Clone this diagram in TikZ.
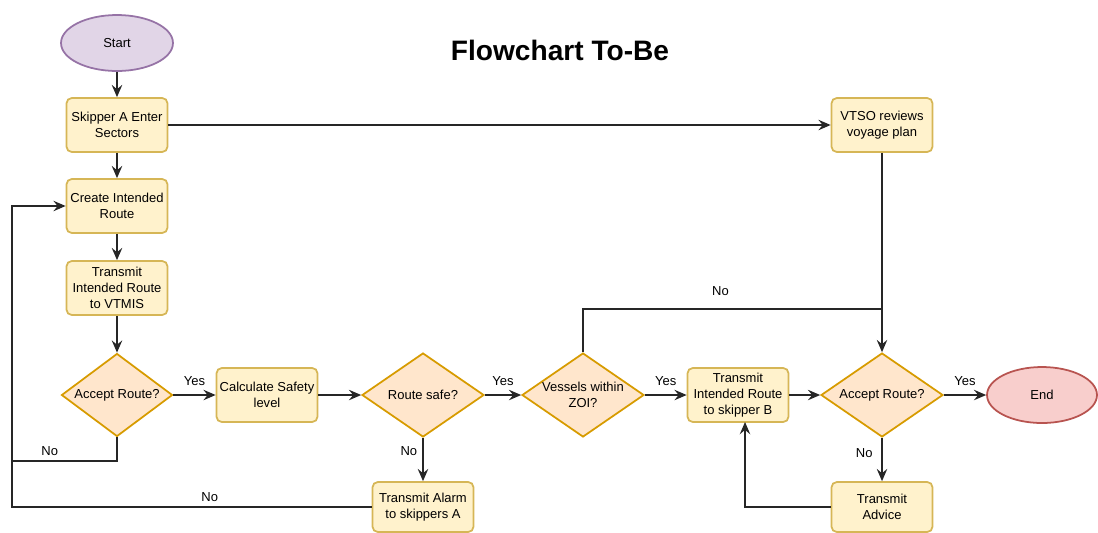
\documentclass[tikz,border=0pt]{standalone}
\usepackage{fontspec}
\setmainfont{Liberation Sans}
\definecolor{procfill}{HTML}{FFF2CC}
\definecolor{procline}{HTML}{D6B656}
\definecolor{decfill}{HTML}{FFE6CC}
\definecolor{decline}{HTML}{D79B00}
\definecolor{startfill}{HTML}{E1D5E7}
\definecolor{startline}{HTML}{9673A6}
\definecolor{endfill}{HTML}{F8CECC}
\definecolor{endline}{HTML}{B85450}
\usetikzlibrary{positioning, arrows.meta, shapes.geometric}

\begin{document}
\begin{tikzpicture}[
    x=0.02cm, y=-0.02cm,
    txt/.style={font=\fontsize{7.4}{9.1}\selectfont},
    proc/.style={txt, fill=procfill, draw=procline, line width=1pt, rounded corners=3pt,
      minimum width=2.02cm, minimum height=1.08cm, inner sep=1pt, align=center},
    decision/.style={txt, diamond, aspect=1.45, fill=decfill, draw=decline, line width=1pt,
      minimum width=2.44cm, minimum height=1.68cm, inner sep=1pt, align=center},
    terminal/.style={txt, ellipse, line width=1pt, minimum width=2.24cm, minimum height=1.12cm},
    lbl/.style={txt, inner sep=1pt},
    link/.style={draw=black!85, line width=0.7pt},
    flow/.style={link, -{Stealth[length=7pt, width=6pt, inset=2.5pt]}},
  ]
    \useasboundingbox (0,0) rectangle (1098,532);

    \node[font=\bfseries\fontsize{16}{19}\selectfont] (title) at (560,50) {Flowchart To-Be};

    \node[terminal, fill=startfill, draw=startline] (start) at (117,43) {Start};
    \node[proc] (skipper) at (117,125) {Skipper A Enter\\Sectors};
    \node[proc] (create) at (117,206) {Create Intended\\Route};
    \node[proc] (vtmis) at (117,288) {Transmit\\Intended Route\\to VTMIS};
    \node[decision, minimum width=2.22cm, minimum height=1.66cm] (accept) at (117,395) {Accept Route?};
    \node[proc] (calc) at (267,395) {Calculate Safety\\level};
    \node[decision] (safe) at (423,395) {Route safe?};
    \node[proc, minimum height=1.0cm] (alarm) at (423,507) {Transmit Alarm\\to skippers A};
    \node[decision, inner sep=-4pt] (zoi) at (583,395) {Vessels within\\ZOI?};
    \node[proc] (skipperb) at (738,395) {Transmit\\Intended Route\\to skipper B};
    \node[proc] (vtso) at (882,125) {VTSO reviews\\voyage plan};
    \node[decision] (accept2) at (882,395) {Accept Route?};
    \node[proc, minimum height=1.0cm] (advice) at (882,507) {Transmit\\Advice};
    \node[terminal, fill=endfill, draw=endline, minimum width=2.2cm] (end) at (1042,395) {End};

    \coordinate (loopa) at (12,461);
    \coordinate (lefttop) at (12,206);
    \coordinate (leftbot) at (12,507);
    \coordinate (merge) at (882,309);
    \coordinate (backb) at (745,422);

    \draw[flow] (start) -- (skipper);
    \draw[flow] (skipper) -- (create);
    \draw[flow] (create) -- (vtmis);
    \draw[flow] (vtmis) -- (accept);
    \draw[flow] (skipper) -- (vtso);
    \draw[flow] (accept) -- node[lbl, above=4pt] {Yes} (calc);
    \draw[flow] (calc) -- (safe);
    \draw[flow] (safe) -- node[lbl, above=4pt] {Yes} (zoi);
    \draw[flow] (safe) -- node[lbl, left=2pt, pos=0.3] {No} (alarm);
    \draw[flow] (zoi) -- node[lbl, above=4pt] {Yes} (skipperb);
    \draw[flow] (skipperb) -- (accept2);
    \draw[flow] (accept2) -- node[lbl, above=4pt] {Yes} (end);
    \draw[flow] (accept2) -- node[lbl, left=4pt, pos=0.35] {No} (advice);
    \draw[flow] (vtso) -- (accept2);
    \draw[link] (zoi.north) |- node[lbl, above=6pt, pos=0.73] {No} (merge);
    \draw[link] (accept.south) |- node[lbl, above=1.5pt, pos=0.82] {No} (loopa);
    \draw[flow] (alarm.west) -- node[lbl, above=2pt, pos=0.45] {No} (leftbot) -- (lefttop) -- (create.west);
    \draw[flow] (advice.west) -| (backb);
  \end{tikzpicture}
\end{document}
